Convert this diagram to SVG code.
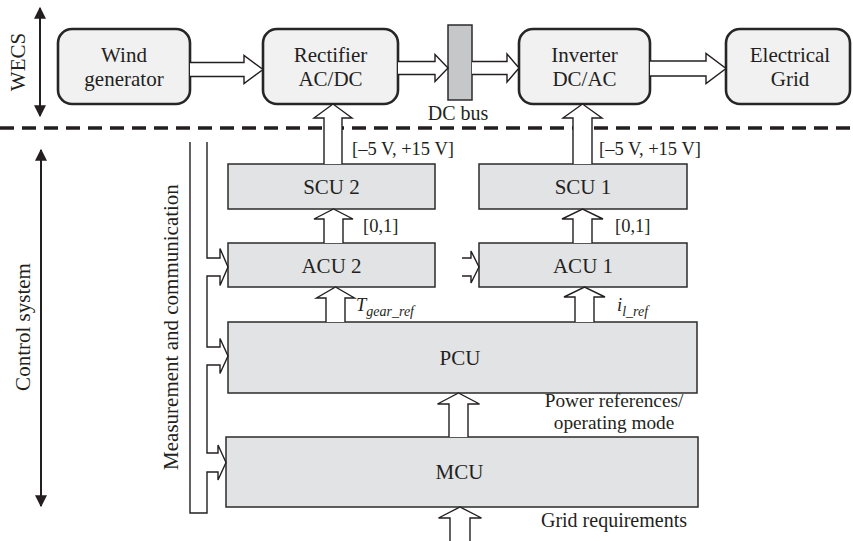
<svg xmlns="http://www.w3.org/2000/svg" width="853" height="541" viewBox="0 0 853 541">
  <defs>
    <marker id="tri" viewBox="0 0 10 10" refX="9" refY="5" markerWidth="6" markerHeight="6" markerUnits="strokeWidth" orient="auto-start-reverse">
      <path d="M0,0 L10,5 L0,10 Z" fill="#231f20"/>
    </marker>
    <style>
      text { font-family: "Liberation Serif", "Times New Roman", serif; fill: #231f20; }
      .lbl { font-size: 21px; text-anchor: middle; }
      .note { font-size: 20px; }
      .pair { font-size: 19.3px; text-anchor: middle; }
      .small { font-size: 18.5px; }
      .it { font-style: italic; }
      .wecs { fill: #f1f1f2; stroke: #262626; stroke-width: 2.6; }
      .ctl { fill: #e2e3e5; stroke: #2b2b2b; stroke-width: 1.5; }
      .bus { fill: #c6c7c9; stroke: #2b2b2b; stroke-width: 1.5; }
      .hollow { fill: #ffffff; stroke: #231f20; stroke-width: 1.4; stroke-linejoin: miter; }
      .wire { fill: none; stroke: #231f20; stroke-width: 1.4; }
      .span { fill: none; stroke: #231f20; stroke-width: 2; }
      .divider { fill: none; stroke: #231f20; stroke-width: 3.5; stroke-dasharray: 14 8; }
    </style>
  </defs>

  <!-- boundary between power chain and control layer -->
  <line class="divider" x1="0" y1="128" x2="853" y2="128"/>

  <!-- extent arrows with side labels -->
  <g id="wecs-extent">
    <line class="span" x1="40" y1="8" x2="40" y2="116" marker-start="url(#tri)" marker-end="url(#tri)"/>
    <text class="lbl" transform="translate(25,62) rotate(-90)">WECS</text>
  </g>
  <g id="control-extent">
    <line class="span" x1="41" y1="150" x2="41" y2="506" marker-start="url(#tri)" marker-end="url(#tri)"/>
    <text class="lbl" transform="translate(29.5,327) rotate(-90)">Control system</text>
  </g>

  <!-- power chain -->
  <g id="wind-generator">
    <rect class="wecs" x="58" y="29" width="132" height="75" rx="14"/>
    <text class="lbl" x="124" y="61.5">Wind</text>
    <text class="lbl" x="124" y="85.5">generator</text>
  </g>
  <g id="rectifier">
    <rect class="wecs" x="263" y="29" width="135" height="75" rx="14"/>
    <text class="lbl" x="330.5" y="61.5">Rectifier</text>
    <text class="lbl" x="330.5" y="86">AC/DC</text>
  </g>
  <g id="dc-bus">
    <rect class="bus" x="448" y="25" width="24" height="75"/>
    <text class="note" x="458" y="120" text-anchor="middle">DC bus</text>
  </g>
  <g id="inverter">
    <rect class="wecs" x="519" y="29" width="131" height="75" rx="14"/>
    <text class="lbl" x="584.5" y="61.5">Inverter</text>
    <text class="lbl" x="584.5" y="86">DC/AC</text>
  </g>
  <g id="electrical-grid">
    <rect class="wecs" x="726" y="29" width="124" height="75" rx="14"/>
    <text class="lbl" x="790" y="61.5">Electrical</text>
    <text class="lbl" x="790" y="86">Grid</text>
  </g>

  <!-- control units -->
  <g id="scu2">
    <rect class="ctl" x="228" y="164" width="207" height="45"/>
    <text class="lbl" x="331.5" y="194">SCU 2</text>
  </g>
  <g id="scu1">
    <rect class="ctl" x="479" y="164" width="208" height="45"/>
    <text class="lbl" x="583" y="194">SCU 1</text>
  </g>
  <g id="acu2">
    <rect class="ctl" x="228" y="243" width="207" height="44"/>
    <text class="lbl" x="331.5" y="272.5">ACU 2</text>
  </g>
  <g id="acu1">
    <rect class="ctl" x="479" y="243" width="208" height="44"/>
    <text class="lbl" x="583" y="272.5">ACU 1</text>
  </g>
  <g id="pcu">
    <rect class="ctl" x="228" y="322" width="469" height="71"/>
    <text class="lbl" x="460" y="364.5">PCU</text>
  </g>
  <g id="mcu">
    <rect class="ctl" x="226" y="437" width="472" height="70"/>
    <text class="lbl" x="459.5" y="479">MCU</text>
  </g>

  <!-- hollow flow arrows and the measurement bus -->
  <g id="connectors">
    <path class="hollow" d="M190,62.5 H244 V55.5 L263,69.5 L244,83.5 V76.5 H190"/>
    <path class="hollow" d="M398,61.5 H435 V54.5 L448,68 L435,81.5 V74.5 H398"/>
    <path class="hollow" d="M472,61.5 H507 V54 L519,68 L507,82 V74.5 H472"/>
    <path class="hollow" d="M650,61 H706 V53.5 L726,68.5 L706,83.5 V76 H650"/>

    <path class="hollow" d="M324,164 V118 H314 L333,104 L352,118 H342 V164"/>
    <path class="hollow" d="M573,164 V118 H563 L582.5,104 L602,118 H592 V164"/>
    <path class="hollow" d="M324,243 V219 H314 L333.5,209 L353,219 H343 V243"/>
    <path class="hollow" d="M573,243 V219 H562 L582.5,209 L603,219 H592 V243"/>
    <path class="hollow" d="M326,322 V298 H316.5 L335.5,287 L354.5,298 H345 V322"/>
    <path class="hollow" d="M575,322 V297 H564 L584.5,287 L605,297 H594 V322"/>
    <path class="hollow" d="M449,437 V404 H437.5 L458.5,393 L479.5,404 H468 V437"/>
    <path class="hollow" d="M450,545 V518 H438.5 L460,507 L481.5,518 H470 V545"/>

    <path class="wire" d="M207,142 V258 H220 V248.5 L228,267 L220,285.5 V276 H207 V347 H220 V338.5 L228,356 L220,373.5 V365 H207 V453 H218 V445 L226,462.5 L218,480 V472 H207 V513 H190 V142"/>
    <path class="wire" d="M462,258 H471 V251 L479,267 L471,283 V276 H462"/>
  </g>

  <!-- signal annotations -->
  <g id="annotations">
    <text class="small" x="352" y="155">[–5 V, +15 V]</text>
    <text class="small" x="599" y="155">[–5 V, +15 V]</text>
    <text class="small" x="363" y="232">[0,1]</text>
    <text class="small" x="615" y="232">[0,1]</text>
    <text class="small it" x="356" y="311">T<tspan font-size="14" dy="5">gear_ref</tspan></text>
    <text class="small it" x="617" y="311">i<tspan font-size="14" dy="5">l_ref</tspan></text>
    <text class="pair" x="614" y="407">Power references/</text>
    <text class="pair" x="614" y="428.5">operating mode</text>
    <text class="note" x="614" y="527" text-anchor="middle">Grid requirements</text>
    <text class="lbl" transform="translate(178,327) rotate(-90)">Measurement and communication</text>
  </g>
</svg>
